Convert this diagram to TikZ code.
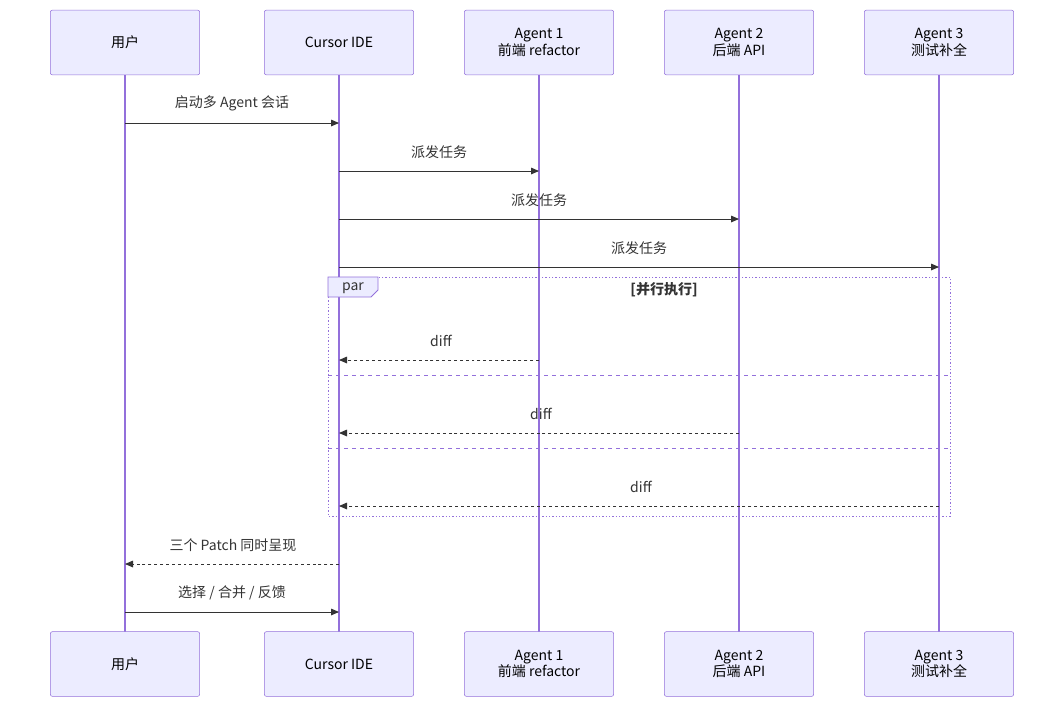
\documentclass[tikz,border=0pt]{standalone}
\usepackage{fontspec}
\setmainfont{Noto Sans CJK SC}
\usetikzlibrary{arrows.meta}
\definecolor{actfill}{HTML}{ECECFF}
\definecolor{actline}{HTML}{9370DB}
\definecolor{msg}{HTML}{333333}
\tikzset{
  actor/.style={draw=actline,fill=actfill,rounded corners=1.5pt,minimum width=112pt,minimum height=48.5pt,align=center,font=\fontsize{10.5}{11}\selectfont,inner sep=0pt},
  life/.style={draw=actline,line width=0.9pt},
  call/.style={draw=msg,line width=0.7pt,-{Triangle[length=6pt,width=5pt]}},
  reply/.style={call,dash pattern=on 2.2pt off 2.2pt},
  lbl/.style={font=\fontsize{10.5}{11}\selectfont,text=msg,inner sep=0pt}
}
\begin{document}
\begin{tikzpicture}[x=0.75pt,y=-0.75pt]
    \useasboundingbox (0,0) rectangle (1064,708);
    % lifelines and actors
    \foreach \n/\x/\t in {u/125/用户, c/339/Cursor IDE, a/539/{Agent 1\\前端 refactor}, b/739/{Agent 2\\后端 API}, d/939/{Agent 3\\测试补全}}{
        \draw[life](\x,75)--(\x,632);
        \node[actor](\n top)at(\x,42.5){\t};
        \node[actor](\n bot)at(\x,664){\t};
    }
    % coordinates on lifelines
    \foreach \n/\x in {u/125,c/339,a/539,b/739,d/939}{
        \foreach \y in {123,171,219,267,360,433,506,564,612}{
            \coordinate(\n\y)at(\x,\y);
        }
    }
    \draw[call](u123)--(c123);
    \node[lbl]at(232,103){启动多 Agent 会话};
    \draw[call](c171)--(a171);
    \node[lbl]at(439,152){派发任务};
    \draw[call](c219)--(b219);
    \node[lbl]at(539,200){派发任务};
    \draw[call](c267)--(d267);
    \node[lbl]at(639,248){派发任务};

    % par block
    \draw[actline,line width=0.7pt,dash pattern=on 1pt off 1.5pt](328,277)rectangle(950,516);
    \draw[actline,line width=0.7pt,fill=actfill](328,277)--(378,277)--(378,290)--(371,297)--(328,297)--cycle;
    \node[lbl]at(353,288){par};
    \node[lbl,font=\fontsize{10.5}{11}\selectfont\bfseries]at(664,290){[并行执行]};
    \draw[actline,line width=0.7pt,dash pattern=on 3pt off 3pt](328,375)--(950,375);
    \draw[actline,line width=0.7pt,dash pattern=on 3pt off 3pt](328,448)--(950,448);

    \draw[reply](a360)--(c360);
    \node[lbl]at(441,341){diff};
    \draw[reply](b433)--(c433);
    \node[lbl]at(541,414){diff};
    \draw[reply](d506)--(c506);
    \node[lbl]at(641,487){diff};

    \draw[reply](c564)--(u564);
    \node[lbl]at(233,545){三个 Patch 同时呈现};
    \draw[call](u612)--(c612);
    \node[lbl]at(232,593){选择 / 合并 / 反馈};
\end{tikzpicture}
\end{document}
